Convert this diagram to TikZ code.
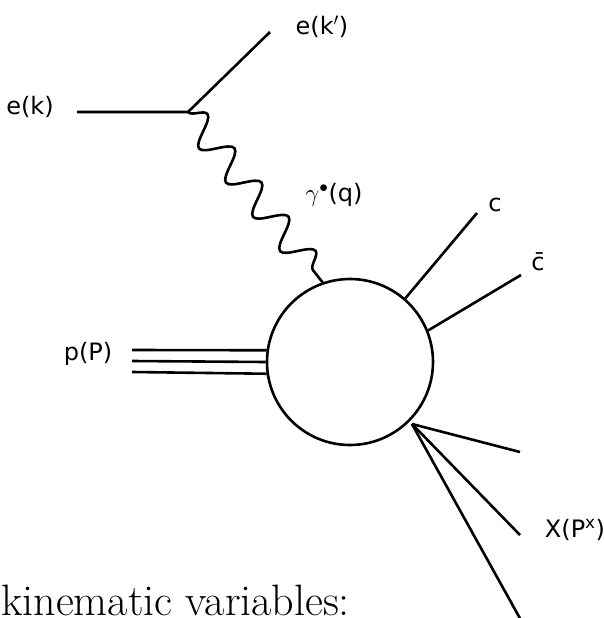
\documentclass[tikz,border=0pt]{standalone}
\usepackage{fontspec}
\newfontfamily\lblfont{DejaVu Sans}
\usetikzlibrary{decorations.pathmorphing,positioning}

\begin{document}
\begin{tikzpicture}[x=1pt,y=-1pt,
    leg/.style={line width=2.6pt},
    lab/.style={font=\lblfont\fontsize{24}{28}\selectfont,inner sep=0pt},
    photon/.style={leg,decorate,decoration={snake,segment length=43.6pt,amplitude=14pt}}]
  \useasboundingbox (0,0) rectangle (604,618);
  % hadronic blob
  \node[circle,draw,leg,minimum size=166pt,inner sep=0pt] (blob) at (350,362) {};
  % lepton vertex
  \coordinate (ein) at (77,112);
  \coordinate (vtx) at (188,112);
  \coordinate (eout) at (270,32);
  \draw[leg] (ein) -- (vtx) -- (eout);
  \draw[photon] (vtx) -- (blob.109);
  % proton
  \foreach \y/\a in {350/172,361/180,372/188}{
    \coordinate (pin\a) at (132,\y);
    \draw[leg] (pin\a) -- (blob.\a);
  }
  % charm pair
  \coordinate (cend) at (477,213);
  \coordinate (cbend) at (521,275);
  \draw[leg] (blob.49) -- (cend);
  \draw[leg] (blob.22) -- (cbend);
  % remnant X
  \coordinate (xo) at (412,424);
  \coordinate (x1) at (520,452);
  \coordinate (x2) at (520,535);
  \coordinate (x3) at (522,622);
  \foreach \n in {x1,x2,x3}
    \draw[leg] (xo) -- (\n);
  % labels
  \node[lab] (ek) at (30,107) {e(k)};
  \node[lab] (ekp) at (322,27) {e(k$'$)};
  \node[lab] (gam) at (334,195) {$\gamma^{\bullet}$(q)};
  \node[lab] (cq) at (495,205) {c};
  \node[lab] (cbar) at (538,262) {\=c};
  \node[lab] (pP) at (88,354) {p(P)};
  \node[lab] (XP) at (575,530) {X(P\textsuperscript{x})};
  \node[anchor=base west,inner sep=0pt,font=\fontsize{44}{44}\selectfont] (kin) at (1,615) {kinematic variables:};
\end{tikzpicture}
\end{document}
